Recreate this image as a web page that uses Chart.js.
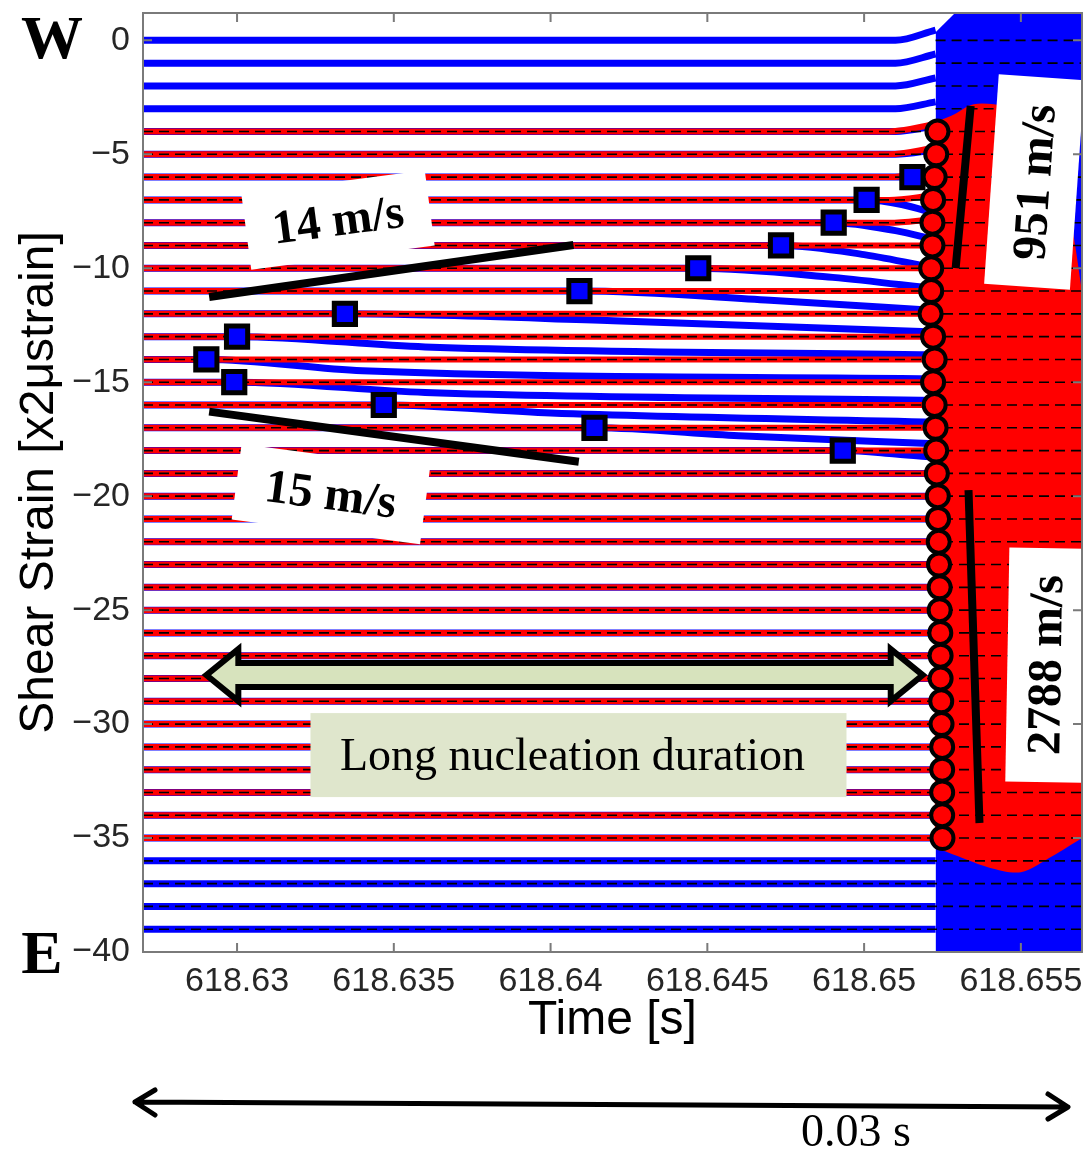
<!DOCTYPE html>
<html lang="en">
<head>
<meta charset="UTF-8">
<title>Shear strain gauge traces</title>
<script src="https://cdn.jsdelivr.net/npm/chart.js"></script>
<style>
  body { margin: 0; background: #fff; }
  .wrap { width: 1085px; height: 1152px; position: relative; }
</style>
</head>
<body>
<div class="wrap"><canvas id="strainChart"></canvas></div>
<script>
// --- data ---
const tMin = 618.627, tMax = 618.65695;
const xTickValues = [618.63, 618.635, 618.64, 618.645, 618.65, 618.655];
const yTickValues = [0, -5, -10, -15, -20, -25, -30, -35, -40];

// one trace per gauge, offset by one unit (W at the top, E at the bottom)
const channelLevels = [0, -1, -2, -3, -4, -5, -6, -7, -8, -9, -10, -11, -12, -13, -14, -15, -16, -17, -18, -19,
  -20, -21, -22, -23, -24, -25, -26, -27, -28, -29, -30, -31, -32, -33, -34, -35, -36, -37, -38, -39];
// gauges with a second (red) channel
const redLevels = [-4, -5, -6, -7, -8, -9, -10, -11, -12, -13, -14, -15, -16, -17, -18, -19, -20,
  -21, -22, -23, -24, -25, -26, -27, -28, -29, -30, -31, -32, -33, -34, -35];

// blue squares: onset of slow nucleation front
const squareTime = [618.65154, 618.65008, 618.64903, 618.64735, 618.64471, 618.64092, 618.63344,
  618.63000, 618.62902, 618.62991, 618.63468, 618.64140, 618.64932];
const squareLevel = [-6, -7, -8, -9, -10, -11, -12, -13, -14, -15, -16, -17, -18];
// how the blue trace sags after the onset
const bendTime = [618.6519, 618.6512, 618.6510, 618.6500, 618.6490, 618.6470, 618.6420,
  618.6360, 618.6340, 618.6360, 618.6400, 618.6460, 618.6510];
const bendDrop = [0.1, 0.2, 0.35, 0.4, 0.4, 0.4, 0.3, 0.45, 0.5, 0.45, 0.35, 0.35, 0.15];
const endDrop = [0.3, 0.6, 0.75, 1.0, 0.9, 0.85, 0.8, 0.8, 0.85, 0.8, 0.75, 0.7, 0.3];

// small upward kick just before rupture
const blueRiseLevels = [0, -1, -2, -3, -4, -5];
const blueRise = [0.45, 0.4, 0.35, 0.3, 0.25, 0.2];
const redRiseLevels = [-4, -5, -6, -7, -8];
const redRise = [0.35, 0.3, 0.25, 0.2, 0.15];

// red circles: arrival of the fast rupture front
const circleTime = [618.65234, 618.65230, 618.65225, 618.65220, 618.65218, 618.65218, 618.65214, 618.65214,
  618.65212, 618.65220, 618.65225, 618.65220, 618.65225, 618.65228, 618.65230, 618.65232, 618.65235,
  618.65236, 618.65238, 618.65239, 618.65241, 618.65241, 618.65243, 618.65244, 618.65244, 618.65246,
  618.65247, 618.65249, 618.65249, 618.65249, 618.65249, 618.65250];

// post-rupture shaking envelope
const shakeTopT = [618.65228, 618.6529, tMax];
const shakeTopV = [0.35, 1.2, 1.2];
const redTopT = [618.65225, 618.6528, 618.6535, 618.6545, 618.6553, 618.6560, 618.6566, tMax];
const redTopV = [-3.6, -3.3, -2.8, -2.9, -3.4, -5.0, -8.0, -11.0];
const redBotT = [618.65225, 618.6530, 618.6540, 618.6550, 618.6560, tMax];
const redBotV = [-35.4, -35.8, -36.3, -36.5, -35.8, -35.0];

// velocity fit lines
const vel14T = [618.62911, 618.64073], vel14V = [-11.26, -8.98];
const vel15T = [618.62911, 618.64090], vel15V = [-16.29, -18.49];
const vel951T = [618.65340, 618.65292], vel951V = [-2.88, -9.99];
const vel2788T = [618.65333, 618.65368], vel2788V = [-19.73, -34.34];

const blueEnd = 618.65228;
const flatUntil = 618.6510;

const BLUE = '#0000ff', RED = '#ff0000';
const pts = (ts, vs) => ts.map((t, i) => ({ x: t, y: vs[i] }));

const datasets = [];

// shaking after rupture (blue everywhere, red band in the middle)
datasets.push({ data: pts(shakeTopT, shakeTopV), fill: 'start', backgroundColor: BLUE,
  borderWidth: 0, pointRadius: 0, order: 100 });
datasets.push({ data: pts(redTopT, redTopV), fill: '+1', backgroundColor: RED,
  borderWidth: 0, pointRadius: 0, tension: 0.3, order: 99 });
datasets.push({ data: pts(redBotT, redBotV), fill: false,
  borderWidth: 0, pointRadius: 0, tension: 0.3, order: 99 });

// blue traces
channelLevels.forEach(L => {
  const i = squareLevel.indexOf(L);
  let data;
  if (i >= 0) {
    data = [{ x: tMin, y: L }, { x: squareTime[i], y: L },
      { x: bendTime[i], y: L - bendDrop[i] }, { x: blueEnd, y: L - endDrop[i] }];
  } else {
    const r = blueRiseLevels.indexOf(L);
    data = [{ x: tMin, y: L }, { x: flatUntil, y: L }, { x: blueEnd, y: L + (r >= 0 ? blueRise[r] : 0) }];
  }
  datasets.push({ data, borderColor: BLUE, borderWidth: 7, pointRadius: 0,
    cubicInterpolationMode: 'monotone', fill: false, order: 90 });
});

// red traces
redLevels.forEach((L, k) => {
  const r = redRiseLevels.indexOf(L);
  const data = [{ x: tMin, y: L }, { x: flatUntil - 0.0002, y: L },
    { x: circleTime[k], y: L + (r >= 0 ? redRise[r] : 0) }];
  datasets.push({ data, borderColor: RED, borderWidth: 6, pointRadius: 0,
    cubicInterpolationMode: 'monotone', fill: false, order: 80 });
});

// dashed zero lines of each gauge
channelLevels.forEach(L => {
  const start = L <= -4 ? tMin : blueEnd;
  datasets.push({ data: [{ x: start, y: L }, { x: tMax, y: L }], borderColor: '#000',
    borderWidth: 1.6, borderDash: [10, 6], pointRadius: 0, fill: false, order: 70 });
});

// velocity lines
[[vel14T, vel14V], [vel15T, vel15V], [vel951T, vel951V], [vel2788T, vel2788V]].forEach(([t, v]) => {
  datasets.push({ data: pts(t, v), borderColor: '#000', borderWidth: 8, pointRadius: 0,
    fill: false, order: 60 });
});

datasets.push({ data: pts(squareTime, squareLevel), showLine: false, pointStyle: 'rect',
  pointRadius: 15, pointBorderWidth: 5, pointBackgroundColor: BLUE, pointBorderColor: '#000', order: 50 });
datasets.push({ data: pts(circleTime, redLevels), showLine: false, pointStyle: 'circle',
  pointRadius: 11, pointBorderWidth: 4, pointBackgroundColor: RED, pointBorderColor: '#000', order: 40 });

// annotation anchors (data units) and box sizes (px)
const speedLabels = [
  { text: '14 m/s', t: 618.63322, v: -7.88, w: 185, h: 76, rot: -7.5 },
  { text: '15 m/s', t: 618.63299, v: -19.91, w: 190, h: 76, rot: 7.5 },
  { text: '951 m/s', t: 618.65543, v: -6.22, w: 210, h: 86, rot: -86 },
  { text: '2788 m/s', t: 618.65578, v: -27.41, w: 234, h: 76, rot: -89 }
];
const nucleationArrow = { t1: 618.62902, t2: 618.65187, v: -27.85 };
const nucleationBox = { text: 'Long nucleation duration', t: 618.64089, v: -31.36, w: 536, h: 84 };

const overlay = {
  id: 'overlay',
  afterDraw(chart) {
    const ctx = chart.ctx, xs = chart.scales.x, ys = chart.scales.y, a = chart.chartArea;
    ctx.save();

    // speed label boxes
    speedLabels.forEach(s => {
      ctx.save();
      ctx.translate(xs.getPixelForValue(s.t), ys.getPixelForValue(s.v));
      ctx.rotate(s.rot * Math.PI / 180);
      ctx.fillStyle = '#fff';
      ctx.fillRect(-s.w / 2, -s.h / 2, s.w, s.h);
      ctx.fillStyle = '#000';
      ctx.font = 'bold 48px "Liberation Serif"';
      ctx.textAlign = 'center';
      ctx.textBaseline = 'middle';
      ctx.fillText(s.text, 0, 3);
      ctx.restore();
    });

    // double block arrow
    const xl = xs.getPixelForValue(nucleationArrow.t1), xr = xs.getPixelForValue(nucleationArrow.t2);
    const yc = ys.getPixelForValue(nucleationArrow.v);
    const hl = 32, hh = 26, sh = 12;
    ctx.beginPath();
    ctx.moveTo(xl, yc);
    ctx.lineTo(xl + hl, yc - hh); ctx.lineTo(xl + hl, yc - sh);
    ctx.lineTo(xr - hl, yc - sh); ctx.lineTo(xr - hl, yc - hh);
    ctx.lineTo(xr, yc);
    ctx.lineTo(xr - hl, yc + hh); ctx.lineTo(xr - hl, yc + sh);
    ctx.lineTo(xl + hl, yc + sh); ctx.lineTo(xl + hl, yc + hh);
    ctx.closePath();
    ctx.fillStyle = '#d7e3bd';
    ctx.fill();
    ctx.lineWidth = 6; ctx.lineJoin = 'miter'; ctx.strokeStyle = '#000';
    ctx.stroke();

    // nucleation label
    const bx = xs.getPixelForValue(nucleationBox.t), by = ys.getPixelForValue(nucleationBox.v);
    ctx.fillStyle = '#dfe6cc';
    ctx.fillRect(bx - nucleationBox.w / 2, by - nucleationBox.h / 2, nucleationBox.w, nucleationBox.h);
    ctx.fillStyle = '#000';
    ctx.font = '46px "Liberation Serif"';
    ctx.textAlign = 'center'; ctx.textBaseline = 'middle';
    ctx.fillText(nucleationBox.text, bx - 6, by + 3);

    // axes box and inner ticks
    ctx.strokeStyle = '#7a7a7a'; ctx.lineWidth = 2; ctx.setLineDash([]);
    ctx.strokeRect(a.left, a.top, a.right - a.left, a.bottom - a.top);
    ctx.beginPath();
    xTickValues.forEach(v => {
      const x = xs.getPixelForValue(v);
      ctx.moveTo(x, a.bottom); ctx.lineTo(x, a.bottom - 9);
      ctx.moveTo(x, a.top); ctx.lineTo(x, a.top + 9);
    });
    yTickValues.forEach(v => {
      const y = ys.getPixelForValue(v);
      ctx.moveTo(a.left, y); ctx.lineTo(a.left + 9, y);
      ctx.moveTo(a.right, y); ctx.lineTo(a.right - 9, y);
    });
    ctx.stroke();

    // W / E
    ctx.fillStyle = '#000';
    ctx.font = 'bold 62px "Liberation Serif"';
    ctx.fillText('W', 52, 42);
    ctx.fillText('E', 42, 957);

    // 0.03 s span arrow
    ctx.strokeStyle = '#000'; ctx.lineWidth = 5; ctx.lineCap = 'round'; ctx.lineJoin = 'round';
    ctx.beginPath();
    ctx.moveTo(135, 1102); ctx.lineTo(1068, 1107);
    ctx.moveTo(155, 1090); ctx.lineTo(135, 1102); ctx.lineTo(155, 1115);
    ctx.moveTo(1048, 1094); ctx.lineTo(1068, 1107); ctx.lineTo(1048, 1119);
    ctx.stroke();
    ctx.font = '46px "Liberation Serif"';
    ctx.fillText('0.03 s', 856, 1134);

    ctx.restore();
  }
};

new Chart(document.getElementById('strainChart'), {
  type: 'line',
  data: { datasets },
  options: {
    responsive: true,
    maintainAspectRatio: false,
    animation: false,
    events: [],
    layout: { autoPadding: false, padding: { left: 0, right: 3, top: 13, bottom: 100 } },
    plugins: { legend: { display: false }, tooltip: { enabled: false } },
    scales: {
      x: {
        type: 'linear', min: tMin, max: tMax,
        afterBuildTicks: s => { s.ticks = xTickValues.map(v => ({ value: v })); },
        afterFit: s => { s.height = 100; s.paddingLeft = 0; s.paddingRight = 0; },
        grid: { display: false }, border: { display: false },
        ticks: {
          autoSkip: false, maxRotation: 0, padding: 1, color: '#262626',
          font: { family: '"Liberation Sans"', size: 34 },
          callback: v => String(+Number(v).toFixed(3))
        },
        title: { display: true, text: 'Time [s]', color: '#000',
          font: { family: '"Liberation Sans"', size: 48 }, padding: { top: 0, bottom: 2 } }
      },
      y: {
        type: 'linear', min: -40, max: 1.2,
        afterBuildTicks: s => { s.ticks = yTickValues.map(v => ({ value: v })); },
        afterFit: s => { s.width = 143; s.paddingTop = 0; s.paddingBottom = 0; },
        grid: { display: false }, border: { display: false },
        ticks: {
          padding: 5, color: '#262626',
          font: { family: '"Liberation Sans"', size: 34 },
          callback: v => (v < 0 ? '\u2212' + Math.abs(v) : String(v))
        },
        title: { display: true, text: 'Shear Strain [x2\u03bcstrain]', color: '#000',
          font: { family: '"Liberation Sans"', size: 48 }, padding: { top: 11, bottom: 0 } }
      }
    }
  },
  plugins: [overlay]
});
</script>
</body>
</html>
